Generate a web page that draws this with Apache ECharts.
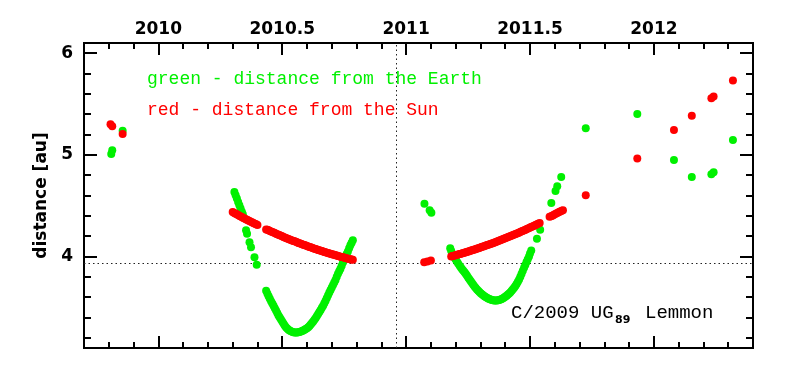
<!DOCTYPE html>
<html>
<head>
<meta charset="utf-8">
<script src="https://cdn.jsdelivr.net/npm/echarts@6/dist/echarts.min.js"></script>
<style>html,body{margin:0;padding:0;background:#fff;}#c{width:793px;height:374px;}</style>
</head>
<body>
<div id="c"></div>
<script>
// ---- data: [year, distance au] ----
var sunEarly = [[2009.807,5.30],[2009.814,5.28],[2009.856,5.205]];
var earthEarly = [[2009.810,5.007],[2009.814,5.046],[2009.856,5.237]];

var sun2010a = [[2010.30,4.437],[2010.305,4.430],[2010.31,4.424],[2010.315,4.417],[2010.32,4.410],[2010.325,4.403],[2010.33,4.397],[2010.335,4.390],[2010.34,4.384],[2010.345,4.377],[2010.35,4.371],[2010.355,4.365],[2010.36,4.359],[2010.365,4.352],[2010.37,4.346],[2010.375,4.340],[2010.38,4.334],[2010.385,4.328],[2010.39,4.322],[2010.395,4.316],[2010.40,4.310]];
var sun2010b = [[2010.435,4.266],[2010.44,4.263],[2010.445,4.257],[2010.45,4.252],[2010.455,4.246],[2010.46,4.241],[2010.465,4.235],[2010.47,4.230],[2010.475,4.225],[2010.48,4.220],[2010.485,4.214],[2010.49,4.209],[2010.495,4.203],[2010.50,4.198],[2010.505,4.193],[2010.51,4.188],[2010.515,4.183],[2010.52,4.178],[2010.525,4.173],[2010.53,4.168],[2010.535,4.163],[2010.54,4.158],[2010.545,4.153],[2010.55,4.149],[2010.555,4.144],[2010.56,4.139],[2010.565,4.134],[2010.57,4.130],[2010.575,4.125],[2010.58,4.121],[2010.585,4.116],[2010.59,4.112],[2010.595,4.107],[2010.60,4.103],[2010.605,4.098],[2010.61,4.094],[2010.615,4.090],[2010.62,4.086],[2010.625,4.081],[2010.63,4.077],[2010.635,4.073],[2010.64,4.069],[2010.645,4.065],[2010.65,4.061],[2010.655,4.057],[2010.66,4.053],[2010.665,4.049],[2010.67,4.045],[2010.675,4.041],[2010.68,4.038],[2010.685,4.034],[2010.69,4.030],[2010.695,4.026],[2010.70,4.023],[2010.705,4.019],[2010.71,4.016],[2010.715,4.012],[2010.72,4.009],[2010.725,4.005],[2010.73,4.002],[2010.735,3.998],[2010.74,3.995],[2010.745,3.992],[2010.75,3.989],[2010.755,3.986],[2010.76,3.983],[2010.765,3.979],[2010.77,3.976],[2010.775,3.973],[2010.78,3.970],[2010.785,3.967]];

var earth2010a = [[2010.307,4.635],[2010.312,4.602],[2010.317,4.570],[2010.322,4.537],[2010.327,4.505],[2010.332,4.472],[2010.337,4.440],[2010.341,4.415],[2010.354,4.257],[2010.358,4.224],[2010.368,4.141],[2010.374,4.092],[2010.388,3.993],[2010.397,3.920]];
var earth2010b = [[2010.435,3.664],[2010.440,3.637],[2010.445,3.61],[2010.450,3.585],[2010.455,3.56],[2010.460,3.537],[2010.465,3.515],[2010.470,3.492],[2010.475,3.47],[2010.480,3.445],[2010.485,3.42],[2010.490,3.40],[2010.495,3.38],[2010.500,3.36],[2010.505,3.34],[2010.510,3.322],[2010.515,3.305],[2010.520,3.292],[2010.525,3.28],[2010.530,3.272],[2010.535,3.265],[2010.540,3.26],[2010.545,3.255],[2010.550,3.253],[2010.555,3.252],[2010.560,3.253],[2010.565,3.255],[2010.570,3.258],[2010.575,3.262],[2010.580,3.267],[2010.585,3.272],[2010.590,3.279],[2010.595,3.286],[2010.600,3.295],[2010.605,3.305],[2010.610,3.317],[2010.615,3.33],[2010.620,3.345],[2010.625,3.36],[2010.630,3.377],[2010.635,3.395],[2010.640,3.415],[2010.645,3.435],[2010.650,3.455],[2010.655,3.475],[2010.660,3.495],[2010.665,3.515],[2010.670,3.54],[2010.675,3.565],[2010.680,3.592],[2010.685,3.62],[2010.690,3.645],[2010.695,3.67],[2010.700,3.695],[2010.705,3.72],[2010.710,3.745],[2010.715,3.77],[2010.720,3.80],[2010.725,3.83],[2010.730,3.855],[2010.735,3.88],[2010.740,3.91],[2010.745,3.94],[2010.750,3.97],[2010.755,4.00],[2010.760,4.025],[2010.765,4.05],[2010.770,4.08],[2010.775,4.11],[2010.780,4.135],[2010.785,4.16]];

var sun2011pre = [[2011.073,3.943],[2011.086,3.952],[2011.100,3.960]];
var earth2011pre = [[2011.074,4.52],[2011.095,4.455],[2011.102,4.43]];

var sun2011a = [[2011.182,4.000],[2011.187,4.004],[2011.192,4.007],[2011.197,4.011],[2011.202,4.014],[2011.207,4.018],[2011.212,4.021],[2011.217,4.025],[2011.222,4.028],[2011.227,4.032],[2011.232,4.035],[2011.237,4.039],[2011.242,4.043],[2011.247,4.046],[2011.252,4.050],[2011.257,4.054],[2011.262,4.058],[2011.267,4.062],[2011.272,4.066],[2011.277,4.070],[2011.282,4.074],[2011.287,4.078],[2011.292,4.082],[2011.297,4.086],[2011.302,4.090],[2011.307,4.095],[2011.312,4.099],[2011.317,4.103],[2011.322,4.107],[2011.327,4.112],[2011.332,4.116],[2011.337,4.120],[2011.342,4.125],[2011.347,4.129],[2011.352,4.134],[2011.357,4.138],[2011.362,4.143],[2011.367,4.148],[2011.372,4.152],[2011.377,4.157],[2011.382,4.162],[2011.387,4.167],[2011.392,4.172],[2011.397,4.176],[2011.402,4.181],[2011.407,4.186],[2011.412,4.191],[2011.417,4.196],[2011.422,4.201],[2011.427,4.206],[2011.432,4.211],[2011.437,4.216],[2011.442,4.222],[2011.447,4.227],[2011.452,4.232],[2011.457,4.237],[2011.462,4.243],[2011.467,4.248],[2011.472,4.253],[2011.477,4.259],[2011.482,4.264],[2011.487,4.270],[2011.492,4.275],[2011.497,4.281],[2011.502,4.287],[2011.507,4.292],[2011.512,4.298],[2011.517,4.303],[2011.522,4.309],[2011.527,4.315],[2011.532,4.321],[2011.539,4.329]];
var sun2011b = [[2011.579,4.39],[2011.585,4.395],[2011.590,4.40],[2011.595,4.407],[2011.600,4.415],[2011.606,4.422],[2011.612,4.43],[2011.617,4.437],[2011.622,4.443],[2011.628,4.449],[2011.633,4.455]];

var earth2011a = [[2011.178,4.08],[2011.182,4.055],[2011.186,4.03],[2011.190,4.01],[2011.195,3.99],[2011.200,3.97],[2011.205,3.95],[2011.210,3.93],[2011.216,3.91],[2011.221,3.892],[2011.226,3.875],[2011.231,3.86],[2011.236,3.845],[2011.241,3.827],[2011.246,3.81],[2011.251,3.792],[2011.256,3.775],[2011.261,3.757],[2011.266,3.74],[2011.271,3.722],[2011.276,3.705],[2011.281,3.69],[2011.286,3.675],[2011.291,3.662],[2011.296,3.65],[2011.301,3.639],[2011.306,3.628],[2011.311,3.619],[2011.316,3.61],[2011.321,3.602],[2011.326,3.595],[2011.331,3.588],[2011.336,3.582],[2011.341,3.577],[2011.346,3.572],[2011.351,3.569],[2011.356,3.567],[2011.361,3.566],[2011.366,3.567],[2011.371,3.569],[2011.376,3.572],[2011.381,3.577],[2011.386,3.582],[2011.391,3.589],[2011.396,3.597],[2011.401,3.606],[2011.406,3.615],[2011.411,3.626],[2011.416,3.637],[2011.421,3.649],[2011.426,3.662],[2011.431,3.677],[2011.436,3.692],[2011.441,3.71],[2011.446,3.73],[2011.451,3.752],[2011.456,3.775],[2011.461,3.802],[2011.466,3.83],[2011.471,3.86],[2011.476,3.89],[2011.481,3.917],[2011.486,3.945],[2011.491,3.972],[2011.496,4.00],[2011.500,4.03],[2011.505,4.06]];
var earth2011b = [[2011.528,4.175],[2011.541,4.263],[2011.586,4.526],[2011.603,4.645],[2011.610,4.69],[2011.626,4.783]];

var sunLate = [[2011.725,4.602],[2011.933,4.964],[2012.081,5.244],[2012.153,5.385],[2012.232,5.557],[2012.241,5.573],[2012.319,5.731]];
var earthLate = [[2011.725,5.261],[2011.933,5.402],[2012.081,4.948],[2012.153,4.783],[2012.232,4.809],[2012.241,4.829],[2012.319,5.145]];

var xMajor = [2010, 2010.5, 2011, 2011.5, 2012];
var xMinor = [2009.8,2009.9,2010.1,2010.2,2010.3,2010.4,2010.6,2010.7,2010.8,2010.9,2011.1,2011.2,2011.3,2011.4,2011.6,2011.7,2011.8,2011.9,2012.1,2012.2,2012.3];
var yMajor = [4, 5, 6];
var yMinor = [3.2,3.4,3.6,3.8,4.2,4.4,4.6,4.8,5.2,5.4,5.6,5.8];
var perihelionTime = 2010.957;
var perihelionDist = 3.928;

var X_MIN = 2009.7, X_MAX = 2012.4, Y_MIN = 3.1, Y_MAX = 6.1;
var GREEN = '#00f000', RED = '#ff0000';

var earthAll = [].concat(earthEarly, earth2010a, earth2010b, earth2011pre, earth2011a, earth2011b, earthLate);
var sunAll = [].concat(sunEarly, sun2010a, sun2010b, sun2011pre, sun2011a, sun2011b, sunLate);

function xAxisDef(pos, vals, len, showLabel) {
  return {
    type: 'value', gridIndex: 0, position: pos, min: X_MIN, max: X_MAX,
    axisLine: {show: true, onZero: false, lineStyle: {color: '#000', width: 2}},
    axisTick: {show: true, inside: true, length: len, customValues: vals, lineStyle: {color: '#000', width: 2}},
    axisLabel: {show: showLabel, customValues: vals, margin: 5, color: '#000', fontSize: 17, fontWeight: 'bold', fontFamily: 'DejaVu Sans',
      formatter: function (v) { return String(Math.round(v * 10) / 10); }},
    splitLine: {show: false}
  };
}
function yAxisDef(pos, vals, len, showLabel) {
  var a = {
    type: 'value', gridIndex: 0, position: pos, min: Y_MIN, max: Y_MAX,
    axisLine: {show: true, onZero: false, lineStyle: {color: '#000', width: 2}},
    axisTick: {show: true, inside: true, length: len, customValues: vals, lineStyle: {color: '#000', width: 2}},
    axisLabel: {show: showLabel, customValues: vals, margin: 11, color: '#000', fontSize: 17, fontWeight: 'bold', fontFamily: 'DejaVu Sans'},
    splitLine: {show: false}
  };
  if (showLabel) {
    a.name = 'distance [au]';
    a.nameLocation = 'middle';
    a.nameGap = 29;
    a.nameTextStyle = {color: '#000', fontSize: 17, fontWeight: 'bold', fontFamily: 'DejaVu Sans'};
  }
  return a;
}

var chart = echarts.init(document.getElementById('c'), null, {renderer: 'canvas'});
chart.setOption({
  animation: false,
  backgroundColor: '#fff',
  grid: {left: 84, right: 40, top: 43, bottom: 26},
  xAxis: [
    xAxisDef('top', xMajor, 12, true),
    xAxisDef('top', xMinor, 6, false),
    xAxisDef('bottom', xMajor, 12, false),
    xAxisDef('bottom', xMinor, 6, false)
  ],
  yAxis: [
    yAxisDef('left', yMajor, 13, true),
    yAxisDef('left', yMinor, 7, false),
    yAxisDef('right', yMajor, 13, false),
    yAxisDef('right', yMinor, 7, false)
  ],
  series: [
    {
      type: 'line', data: [], xAxisIndex: 0, yAxisIndex: 0, silent: true,
      markLine: {
        silent: true, symbol: 'none', z: 1, animation: false,
        label: {show: false},
        lineStyle: {color: '#222', width: 1, type: [1.5, 3]},
        data: [{xAxis: perihelionTime}, {yAxis: perihelionDist}]
      }
    },
    {
      name: 'Earth', type: 'scatter', data: earthAll, xAxisIndex: 0, yAxisIndex: 0,
      symbol: 'circle', symbolSize: 8, z: 3,
      itemStyle: {color: GREEN, opacity: 1}
    },
    {
      name: 'Sun', type: 'scatter', data: sunAll, xAxisIndex: 0, yAxisIndex: 0,
      symbol: 'circle', symbolSize: 8, z: 4,
      itemStyle: {color: RED, opacity: 1}
    }
  ],
  graphic: [
    {type: 'text', x: 147, y: 88, z: 10, style: {text: 'green - distance from the Earth', fill: GREEN, font: '18px "Liberation Mono"', verticalAlign: 'bottom'}},
    {type: 'text', x: 147, y: 119, z: 10, style: {text: 'red - distance from the Sun', fill: RED, font: '18px "Liberation Mono"', verticalAlign: 'bottom'}},
    {type: 'text', x: 511, y: 322.5, z: 10, style: {text: 'C/2009 UG', fill: '#000', font: '19px "Liberation Mono"', verticalAlign: 'bottom'}},
    {type: 'text', x: 615, y: 326, z: 10, style: {text: '89', fill: '#000', font: 'bold 11px "DejaVu Sans"', verticalAlign: 'bottom'}},
    {type: 'text', x: 645, y: 322.5, z: 10, style: {text: 'Lemmon', fill: '#000', font: '19px "Liberation Mono"', verticalAlign: 'bottom'}}
  ]
});
</script>
</body>
</html>
